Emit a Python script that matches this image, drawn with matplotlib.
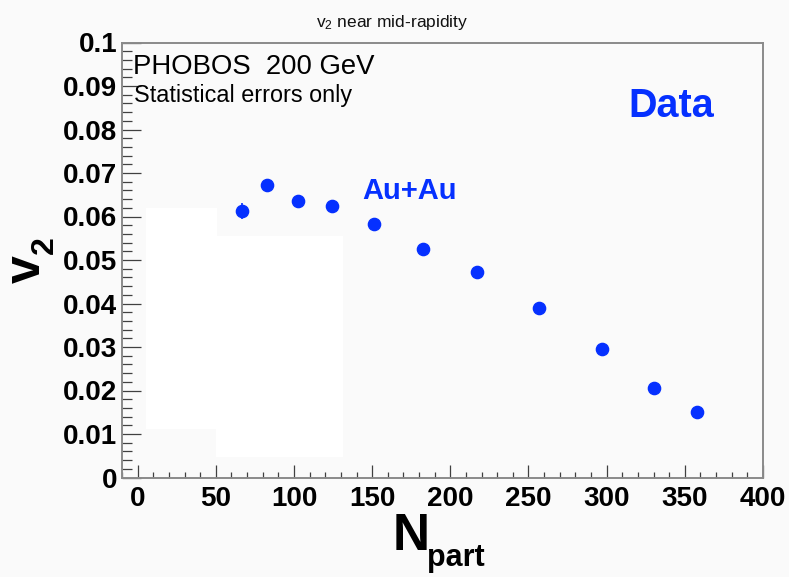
import matplotlib
matplotlib.use("Agg")
import matplotlib.pyplot as plt
from matplotlib.patches import Rectangle
from matplotlib.ticker import MultipleLocator, FixedLocator, FixedFormatter

# ---- data ----
npart = [66.6, 82.5, 102.6, 124.5, 151.0, 182.5, 217.0, 256.7, 297.0, 330.0, 357.5]
v2 = [0.0613, 0.0672, 0.0636, 0.0625, 0.0583, 0.0525, 0.0472, 0.0390, 0.0295, 0.0206, 0.0151]
v2_err = [0.0019, 0.0010, 0.0008, 0.0007, 0.0006, 0.0006, 0.0005, 0.0005, 0.0005, 0.0005, 0.0005]
xticks = [0, 50, 100, 150, 200, 250, 300, 350, 400]
xticklabels = ["0", "50", "100", "150", "200", "250", "300", "350", "400"]
yticks = [0, 0.01, 0.02, 0.03, 0.04, 0.05, 0.06, 0.07, 0.08, 0.09, 0.1]
yticklabels = ["0", "0.01", "0.02", "0.03", "0.04", "0.05", "0.06", "0.07", "0.08", "0.09", "0.1"]

plt.rcParams['font.family'] = ['Liberation Sans', 'DejaVu Sans']
plt.rcParams['mathtext.fontset'] = 'custom'
plt.rcParams['mathtext.rm'] = 'Liberation Sans'
plt.rcParams['mathtext.it'] = 'Liberation Sans'
plt.rcParams['mathtext.bf'] = 'Liberation Sans:bold'

W, H = 789, 577
BG = '#fafafa'
BLUE = '#0530ff'
fig = plt.figure(figsize=(W / 100, H / 100), dpi=100, facecolor=BG)

def fx(px):
    return px / W

def fy(py):
    return 1 - py / H

L, R, T, B = 122, 763, 42.5, 477.5
ax = fig.add_axes([fx(L), fy(B), (R - L) / W, (B - T) / H])
ax.set_facecolor(BG)
ax.set_xlim(-10, 400)
ax.set_ylim(0, 0.1)

# white overlay rectangles present in the reference
for (x0, y0, x1, y1) in [(146, 208, 216.5, 428.5), (216, 236, 343, 456.5)]:
    fig.patches.append(Rectangle((fx(x0), fy(y1)), (x1 - x0) / W, (y1 - y0) / H,
                                 transform=fig.transFigure, facecolor='white',
                                 edgecolor='none', zorder=0.5))
ax.patch.set_zorder(0)
ax.set_zorder(1)
ax.patch.set_alpha(0)

ax.errorbar(npart, v2, yerr=v2_err, fmt='o', color=BLUE, ms=8.8, mec=BLUE,
            elinewidth=1.2, capsize=0, zorder=3)

for s in ax.spines.values():
    s.set_color('#8a8a8a')
    s.set_linewidth(1.4)

ax.xaxis.set_major_locator(FixedLocator(xticks))
ax.xaxis.set_major_formatter(FixedFormatter(xticklabels))
ax.xaxis.set_minor_locator(MultipleLocator(10))
ax.yaxis.set_major_locator(FixedLocator(yticks))
ax.yaxis.set_major_formatter(FixedFormatter(yticklabels))
ax.yaxis.set_minor_locator(MultipleLocator(0.002))

ax.tick_params(axis='x', which='major', direction='in', length=9.4, width=0.9,
               color='#404040', pad=6, labelsize=20)
ax.tick_params(axis='x', which='minor', direction='in', length=4.3, width=0.9,
               color='#404040')
ax.tick_params(axis='y', which='major', direction='in', length=13.7, width=0.9,
               color='#404040', pad=3.5, labelsize=20)
ax.tick_params(axis='y', which='minor', direction='in', length=7.2, width=0.9,
               color='#404040')
for lab in ax.get_xticklabels() + ax.get_yticklabels():
    lab.set_fontweight('bold')

# title
fig.text(fx(392), fy(26.7), r'v$_2$ near mid-rapidity', fontsize=12.5,
         ha='center', va='baseline', color='#111111')

# in-plot texts
fig.text(fx(133), fy(74), 'PHOBOS  200 GeV', fontsize=19.8, ha='left', va='baseline')
fig.text(fx(134), fy(101.7), 'Statistical errors only', fontsize=16.8, ha='left', va='baseline')
fig.text(fx(671), fy(116.7), 'Data', fontsize=28.5, fontweight='bold', color=BLUE,
         ha='center', va='baseline')
fig.text(fx(410), fy(199.3), 'Au+Au', fontsize=21, fontweight='bold', color=BLUE,
         ha='center', va='baseline')

# x axis label N_part
fig.text(fx(411), fy(550), 'N', fontsize=37, fontweight='bold', ha='center', va='baseline')
fig.text(fx(427), fy(566), 'part', fontsize=22, fontweight='bold', ha='left', va='baseline')

# y axis label v_2
fig.text(fx(40), fy(283), 'v', fontsize=36, fontweight='bold', rotation=90,
         rotation_mode='anchor', ha='left', va='baseline')
fig.text(fx(53), fy(254), '2', fontsize=23, fontweight='bold', rotation=90,
         rotation_mode='anchor', ha='left', va='baseline')

fig.savefig('out.png', dpi=100, facecolor=BG)
